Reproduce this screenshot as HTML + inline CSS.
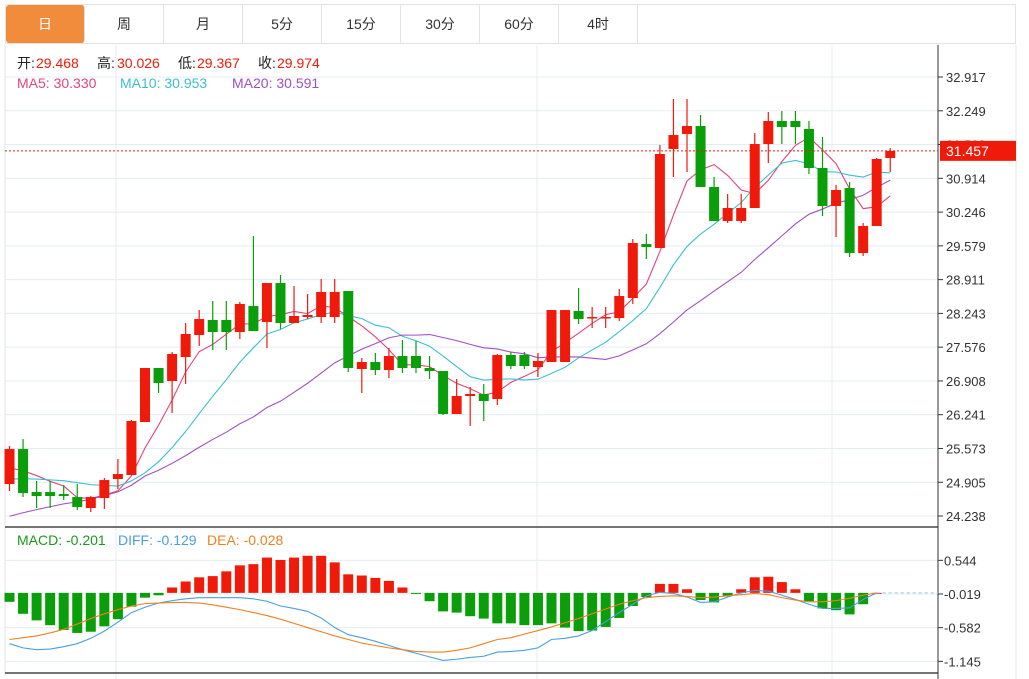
<!DOCTYPE html>
<html><head><meta charset="utf-8"><style>
body{margin:0;background:#fff;font-family:"Liberation Sans","Noto Sans CJK SC",sans-serif;}
#wrap{position:relative;width:1029px;height:679px;overflow:hidden;}
.tabs{position:absolute;left:5px;top:4px;width:1011px;height:40px;border:1px solid #e3e3e3;box-sizing:border-box;display:flex;}
.tab{width:79px;height:38px;line-height:38px;text-align:center;font-size:14px;color:#333;border-right:1px solid #e3e3e3;box-sizing:border-box;}
.tab.active{background:#f08c3c;color:#fff;border-radius:3px;}
svg{position:absolute;left:0;top:0;}
</style></head><body><div id="wrap">
<div class="tabs">
<div class="tab active">日</div>
<div class="tab">周</div>
<div class="tab">月</div>
<div class="tab">5分</div>
<div class="tab">15分</div>
<div class="tab">30分</div>
<div class="tab">60分</div>
<div class="tab">4时</div>
</div>
<svg id="chart" width="1029" height="679"></svg>
</div>
<script>
const opens=[24.870,25.562,24.712,24.712,24.672,24.613,24.396,24.593,24.969,25.048,26.096,27.164,26.907,27.381,27.816,28.113,28.113,27.875,28.389,28.073,28.844,28.053,28.172,28.172,28.172,28.686,27.144,27.282,27.124,27.401,27.401,27.164,27.104,26.254,26.610,26.650,26.551,27.421,27.421,27.183,27.282,27.282,28.291,28.152,28.152,28.152,28.548,29.615,29.536,31.494,31.790,31.948,30.742,30.070,30.070,30.327,31.592,32.047,32.047,31.889,31.118,30.367,30.722,29.437,29.971,31.316];
const highs=[25.622,25.760,24.930,24.930,24.851,24.870,24.633,24.989,25.365,26.136,27.164,27.164,27.480,28.053,28.310,28.488,28.488,28.469,29.773,28.844,29.002,28.785,28.627,28.923,28.923,28.686,27.361,27.460,27.559,27.717,27.698,27.401,27.104,26.946,26.788,26.847,27.441,27.480,27.480,27.460,28.310,28.310,28.745,28.370,28.370,28.726,29.714,29.813,31.573,32.482,32.482,32.166,30.940,30.604,30.604,31.810,32.225,32.245,32.245,32.047,31.731,30.782,30.841,30.030,31.316,31.513];
const lows=[24.732,24.613,24.396,24.396,24.554,24.356,24.317,24.376,24.771,25.048,26.096,26.669,26.274,26.847,27.599,27.520,27.520,27.737,27.895,27.559,27.935,28.053,28.132,28.053,28.053,27.085,26.669,27.025,26.966,27.065,27.065,26.946,26.234,26.254,26.017,26.116,26.432,27.144,27.144,26.986,27.282,27.282,28.034,27.955,27.955,28.093,28.429,29.319,29.536,30.940,31.039,30.742,30.070,30.030,30.030,30.327,31.217,31.592,31.592,30.999,30.169,29.754,29.358,29.378,29.971,31.039];
const closes=[25.562,24.692,24.633,24.633,24.633,24.416,24.613,24.949,25.068,26.116,27.164,26.867,27.441,27.836,28.132,27.875,27.875,28.429,27.895,28.844,28.053,28.192,28.212,28.666,28.666,27.164,27.282,27.124,27.401,27.164,27.164,27.104,26.254,26.610,26.650,26.511,27.421,27.203,27.203,27.302,28.310,28.310,28.132,28.172,28.172,28.587,29.635,29.556,31.395,31.770,31.948,30.742,30.070,30.327,30.327,31.592,32.047,31.928,31.928,31.118,30.367,30.683,29.437,29.971,31.296,31.454];
const priorCloses=[23.3,23.4,23.5,23.5,23.6,23.6,23.5,23.6,23.5,23.5,24.6,24.7,24.8,24.8,24.8,25.0,25.1,25.2,25.1];
const priceTicks=[32.917,32.249,31.582,30.914,30.246,29.579,28.911,28.243,27.576,26.908,26.241,25.573,24.905,24.238];
const macdHist=[-0.15,-0.35,-0.46,-0.54,-0.62,-0.67,-0.65,-0.56,-0.44,-0.23,-0.08,-0.04,0.09,0.19,0.26,0.28,0.36,0.46,0.48,0.59,0.55,0.59,0.62,0.62,0.51,0.31,0.29,0.25,0.20,0.09,-0.01,-0.14,-0.31,-0.33,-0.39,-0.43,-0.51,-0.51,-0.54,-0.54,-0.51,-0.58,-0.64,-0.63,-0.57,-0.42,-0.22,-0.07,0.15,0.15,0.06,-0.12,-0.16,-0.05,0.06,0.26,0.27,0.18,0.06,-0.14,-0.26,-0.29,-0.36,-0.19,0.0];
const diffVals=[-0.85,-0.92,-0.95,-0.94,-0.90,-0.85,-0.76,-0.64,-0.49,-0.33,-0.24,-0.17,-0.13,-0.10,-0.08,-0.08,-0.08,-0.08,-0.10,-0.14,-0.22,-0.26,-0.31,-0.42,-0.58,-0.70,-0.75,-0.81,-0.88,-0.95,-1.01,-1.07,-1.13,-1.11,-1.08,-1.06,-0.99,-0.98,-0.96,-0.92,-0.78,-0.76,-0.72,-0.63,-0.48,-0.33,-0.19,-0.05,0.01,-0.01,-0.07,-0.16,-0.15,-0.07,0.0,0.04,0.03,-0.04,-0.11,-0.19,-0.26,-0.26,-0.25,-0.11,0.0];
const deaVals=[-0.78,-0.75,-0.72,-0.67,-0.61,-0.52,-0.43,-0.35,-0.28,-0.22,-0.18,-0.17,-0.16,-0.16,-0.17,-0.20,-0.24,-0.28,-0.33,-0.38,-0.44,-0.51,-0.58,-0.65,-0.72,-0.78,-0.84,-0.88,-0.92,-0.95,-0.98,-0.99,-0.99,-0.96,-0.92,-0.85,-0.78,-0.75,-0.69,-0.63,-0.57,-0.50,-0.43,-0.35,-0.27,-0.19,-0.13,-0.08,-0.06,-0.05,-0.06,-0.08,-0.07,-0.05,-0.03,-0.01,-0.03,-0.08,-0.12,-0.15,-0.15,-0.13,-0.09,-0.04,0.0];
const macdTicks=[0.544,-0.019,-0.582,-1.145];
const lastPrice=31.457;

const NS='http://www.w3.org/2000/svg';
const svg=document.getElementById('chart');
function mk(tag,attrs,parent){const e=document.createElementNS(NS,tag);for(const k in attrs)e.setAttribute(k,attrs[k]);(parent||svg).appendChild(e);return e;}
const xOf=i=>9.5+i*13.55;
const yP=p=>77+(32.917-p)*(439/8.679);
const yM=v=>594-(v+0.019)*(101/1.689);
const RED='#f01a0a',GREEN='#0a9e0a';

let g;
g=mk('line',{x1:5,y1:45,x2:5,y2:675,stroke:'#e3e3e3'});

[116,537,832].forEach(x=>{const l=mk('line',{x1:x,y1:45,x2:x,y2:679,stroke:'#e4ecf3'});

});
priceTicks.forEach(t=>{const y=yP(t);
const l=mk('line',{x1:5,y1:y,x2:938,y2:y,stroke:'#e4ecf3'});


mk('line',{x1:938,y1:y,x2:943,y2:y,stroke:'#333'});
const tx=mk('text',{x:946,y:y+5,'font-size':13,fill:'#333'});tx.textContent=t.toFixed(3);

});
macdTicks.forEach(t=>{const y=yM(t);
const l=mk('line',{x1:5,y1:y,x2:938,y2:y,stroke:'#e4ecf3'});


mk('line',{x1:938,y1:y,x2:943,y2:y,stroke:'#333'});
const tx=mk('text',{x:944,y:y+5,'font-size':13,fill:'#333'});tx.textContent=t.toFixed(3);

});
mk('line',{x1:5,y1:527,x2:938,y2:527,stroke:'#222','stroke-width':1.3});
mk('line',{x1:5,y1:673,x2:938,y2:673,stroke:'#222','stroke-width':1.3});
mk('line',{x1:938,y1:45,x2:938,y2:679,stroke:'#333'});
mk('line',{x1:1016,y1:45,x2:1016,y2:679,stroke:'#e3e3e3'});

const all=priorCloses.concat(closes);
function ma(n){return closes.map((c,i)=>{const j=i+priorCloses.length;let s=0;for(let k=j-n+1;k<=j;k++)s+=all[k];return s/n;});}
[[5,'#e0457b','ma5-line'],[10,'#3bbfd0','ma10-line'],[20,'#a050c0','ma20-line']].forEach(([n,c,name])=>{
const v=ma(n);const p=mk('polyline',{points:v.map((m,i)=>xOf(i)+','+yP(m)).join(' '),fill:'none',stroke:c,'stroke-width':1.1});

});

closes.forEach((c,i)=>{const o=opens[i],up=c>=o,col=up?RED:GREEN,x=xOf(i);
const w=mk('line',{x1:x,y1:yP(highs[i]),x2:x,y2:yP(lows[i]),stroke:col,'stroke-width':1.2});


const top=yP(Math.max(o,c)),h=Math.max(1.5,yP(Math.min(o,c))-top);
const r=mk('rect',{x:x-5,y:top,width:10,height:h,fill:col});

});

const ly=yP(lastPrice);
mk('line',{x1:5,y1:ly,x2:938,y2:ly,stroke:RED,'stroke-dasharray':'2,2'});
const lb=mk('rect',{x:940,y:ly-10,width:76,height:20,fill:RED});


const lt=mk('text',{x:946,y:ly+5,'font-size':14,fill:'#fff'});lt.textContent=lastPrice.toFixed(3);

macdHist.forEach((v,i)=>{const x=xOf(i),y0=yM(0),y1=yM(v);
const r=mk('rect',{x:x-5,y:Math.min(y0,y1),width:10,height:Math.max(1,Math.abs(y1-y0)),fill:v>=0?RED:GREEN});

});
[[diffVals,'#4a9fe0','diff-line'],[deaVals,'#f08020','dea-line']].forEach(([a,c,name])=>{
const p=mk('polyline',{points:a.map((v,i)=>xOf(i)+','+yM(v)).join(' '),fill:'none',stroke:c,'stroke-width':1.1});

});
mk('line',{x1:xOf(diffVals.length-1),y1:yM(0),x2:938,y2:yM(0),stroke:'#9cc8ea','stroke-dasharray':'3,3'});

function legend(y,parts,name){const t=mk('text',{y:y,'font-size':14});


parts.forEach(([x,s,c])=>{const sp=mk('tspan',{x:x,fill:c},t);sp.textContent=s;});}
legend(68,[[17,'开:','#222'],[36,'29.468',RED],[97,'高:','#222'],[117,'30.026',RED],[178,'低:','#222'],[197,'29.367',RED],[258,'收:','#222'],[277,'29.974',RED]],'ohlc-legend');
legend(88,[[17,'MA5: 30.330','#e0457b'],[120,'MA10: 30.953','#3bbfd0'],[232,'MA20: 30.591','#a050c0']],'ma-legend');
legend(545,[[17,'MACD: -0.201','#1a9a1a'],[118,'DIFF: -0.129','#4a9fe0'],[207,'DEA: -0.028','#f08020']],'macd-legend');
</script></body></html>
